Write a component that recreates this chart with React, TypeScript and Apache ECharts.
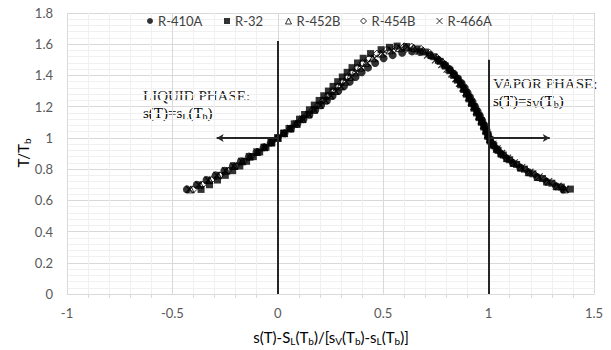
import React, { useEffect, useRef } from "react";
import * as echarts from "echarts";

type Pt = [number, number];

const seriesNames = ["R-410A", "R-32", "R-452B", "R-454B", "R-466A"];

const R410A: Pt[] = [
  [-0.431, 0.67], [-0.384, 0.7], [-0.338, 0.73], [-0.295, 0.76], [-0.253, 0.79], [-0.213, 0.82],
  [-0.175, 0.85], [-0.137, 0.88], [-0.101, 0.91], [-0.067, 0.94], [-0.033, 0.97], [0, 1],
  [0.032, 1.03], [0.063, 1.06], [0.093, 1.09], [0.122, 1.12], [0.15, 1.15], [0.178, 1.18],
  [0.206, 1.21], [0.233, 1.24], [0.26, 1.27], [0.287, 1.3], [0.314, 1.33], [0.341, 1.36],
  [0.369, 1.39], [0.398, 1.42], [0.428, 1.45], [0.462, 1.48], [0.502, 1.51], [0.545, 1.53],
  [0.59, 1.545], [0.637, 1.554],
  [0.675, 1.55], [0.72, 1.53], [0.76, 1.5], [0.79, 1.47], [0.815, 1.44], [0.836, 1.41],
  [0.855, 1.38], [0.872, 1.35], [0.887, 1.32], [0.9, 1.29], [0.912, 1.26], [0.924, 1.23],
  [0.936, 1.2], [0.948, 1.17], [0.959, 1.14], [0.97, 1.11], [0.98, 1.08], [0.99, 1.05],
  [0.998, 1.02], [1.006, 0.99], [1.02, 0.96], [1.037, 0.93], [1.058, 0.9], [1.085, 0.87],
  [1.115, 0.84], [1.15, 0.81], [1.19, 0.78], [1.23, 0.75], [1.275, 0.72], [1.32, 0.69],
  [1.355, 0.67],
];

const R32: Pt[] = [
  [-0.364, 0.67], [-0.324, 0.7], [-0.286, 0.73], [-0.249, 0.76], [-0.214, 0.79], [-0.18, 0.82],
  [-0.148, 0.85], [-0.116, 0.88], [-0.086, 0.91], [-0.056, 0.94], [-0.028, 0.97], [0, 1],
  [0.027, 1.03], [0.053, 1.06], [0.078, 1.09], [0.103, 1.12], [0.127, 1.15], [0.15, 1.18],
  [0.173, 1.21], [0.196, 1.24], [0.218, 1.27], [0.24, 1.3], [0.262, 1.33], [0.284, 1.36],
  [0.306, 1.39], [0.329, 1.42], [0.352, 1.45], [0.378, 1.48], [0.405, 1.51], [0.44, 1.54],
  [0.49, 1.565], [0.53, 1.58], [0.566, 1.588],
  [0.61, 1.585], [0.66, 1.57], [0.7, 1.55], [0.74, 1.52], [0.77, 1.49], [0.795, 1.46],
  [0.816, 1.43], [0.835, 1.4], [0.852, 1.37], [0.868, 1.34], [0.882, 1.31], [0.895, 1.28],
  [0.907, 1.25], [0.919, 1.22], [0.931, 1.19], [0.943, 1.16], [0.955, 1.13], [0.966, 1.1],
  [0.977, 1.07], [0.987, 1.04], [0.996, 1.01], [1.008, 0.98], [1.025, 0.95], [1.045, 0.92],
  [1.07, 0.89], [1.1, 0.86], [1.133, 0.83], [1.17, 0.8], [1.21, 0.77], [1.255, 0.74],
  [1.3, 0.71], [1.345, 0.685], [1.388, 0.672],
];

const R452B: Pt[] = [
  [-0.413, 0.67], [-0.368, 0.7], [-0.324, 0.73], [-0.283, 0.76], [-0.243, 0.79], [-0.205, 0.82],
  [-0.168, 0.85], [-0.132, 0.88], [-0.097, 0.91], [-0.064, 0.94], [-0.031, 0.97], [0, 1],
  [0.03, 1.03], [0.06, 1.06], [0.089, 1.09], [0.117, 1.12], [0.144, 1.15], [0.171, 1.18],
  [0.197, 1.21], [0.222, 1.24], [0.247, 1.27], [0.271, 1.3], [0.295, 1.33], [0.318, 1.36],
  [0.341, 1.39], [0.364, 1.42], [0.39, 1.45], [0.418, 1.48], [0.45, 1.51], [0.49, 1.54],
  [0.53, 1.56], [0.575, 1.575], [0.61, 1.582],
  [0.645, 1.578], [0.69, 1.56], [0.73, 1.53], [0.763, 1.5], [0.79, 1.47], [0.812, 1.44],
  [0.832, 1.41], [0.85, 1.38], [0.867, 1.35], [0.882, 1.32], [0.896, 1.29], [0.909, 1.26],
  [0.921, 1.23], [0.933, 1.2], [0.945, 1.17], [0.956, 1.14], [0.967, 1.11], [0.978, 1.08],
  [0.988, 1.05], [0.997, 1.02], [1.006, 0.99], [1.02, 0.96], [1.038, 0.93], [1.06, 0.9],
  [1.087, 0.87], [1.118, 0.84], [1.152, 0.81], [1.19, 0.78], [1.232, 0.75], [1.277, 0.72],
  [1.322, 0.69], [1.36, 0.67],
];

const R454B: Pt[] = [
  [-0.4, 0.67], [-0.357, 0.7], [-0.315, 0.73], [-0.274, 0.76], [-0.236, 0.79], [-0.198, 0.82],
  [-0.163, 0.85], [-0.128, 0.88], [-0.094, 0.91], [-0.062, 0.94], [-0.03, 0.97], [0, 1],
  [0.03, 1.03], [0.058, 1.06], [0.086, 1.09], [0.113, 1.12], [0.14, 1.15], [0.166, 1.18],
  [0.191, 1.21], [0.215, 1.24], [0.239, 1.27], [0.262, 1.3], [0.285, 1.33], [0.307, 1.36],
  [0.33, 1.39], [0.352, 1.42], [0.376, 1.45], [0.402, 1.48], [0.432, 1.51], [0.47, 1.54],
  [0.515, 1.565], [0.56, 1.58], [0.6, 1.587],
  [0.635, 1.585], [0.68, 1.57], [0.72, 1.545], [0.755, 1.515], [0.782, 1.485], [0.805, 1.455],
  [0.825, 1.425], [0.843, 1.395], [0.86, 1.365], [0.875, 1.335], [0.889, 1.305], [0.902, 1.275],
  [0.914, 1.245], [0.926, 1.215], [0.938, 1.185], [0.95, 1.155], [0.961, 1.125], [0.972, 1.095],
  [0.982, 1.065], [0.992, 1.035], [0.999, 1.005], [1.01, 0.975], [1.028, 0.945], [1.05, 0.915],
  [1.075, 0.885], [1.105, 0.855], [1.14, 0.825], [1.178, 0.795], [1.22, 0.765], [1.265, 0.735],
  [1.31, 0.705], [1.35, 0.68],
];

const R466A: Pt[] = [
  [-0.42, 0.67], [-0.375, 0.7], [-0.331, 0.73], [-0.289, 0.76], [-0.248, 0.79], [-0.209, 0.82],
  [-0.171, 0.85], [-0.135, 0.88], [-0.099, 0.91], [-0.065, 0.94], [-0.032, 0.97], [0, 1],
  [0.031, 1.03], [0.061, 1.06], [0.091, 1.09], [0.119, 1.12], [0.147, 1.15], [0.174, 1.18],
  [0.201, 1.21], [0.226, 1.24], [0.252, 1.27], [0.276, 1.3], [0.3, 1.33], [0.324, 1.36],
  [0.347, 1.39], [0.371, 1.42], [0.397, 1.45], [0.425, 1.48], [0.458, 1.51], [0.498, 1.54],
  [0.54, 1.56], [0.585, 1.572],
  [0.625, 1.57], [0.67, 1.555], [0.71, 1.53], [0.748, 1.5], [0.778, 1.47], [0.803, 1.44],
  [0.825, 1.41], [0.844, 1.38], [0.862, 1.35], [0.878, 1.32], [0.892, 1.29], [0.905, 1.26],
  [0.918, 1.23], [0.93, 1.2], [0.942, 1.17], [0.954, 1.14], [0.965, 1.11], [0.976, 1.08],
  [0.987, 1.05], [0.996, 1.02], [1.006, 0.99], [1.021, 0.96], [1.04, 0.93], [1.062, 0.9],
  [1.09, 0.87], [1.122, 0.84], [1.157, 0.81], [1.196, 0.78], [1.24, 0.75], [1.285, 0.72],
  [1.33, 0.69], [1.365, 0.67],
];

// reference lines (data coordinates)
const phaseLines: [Pt, Pt][] = [
  [[0, 0], [0, 1.62]],
  [[1, 0], [1, 1.5]],
];
const arrowLines: [Pt, Pt][] = [
  [[0, 1], [-0.29, 1]],
  [[1, 1], [1.29, 1]],
];

const FONT = "Lato, 'Open Sans', sans-serif";
const SERIF = "'Liberation Serif', 'DejaVu Serif', serif";
const LABEL = "#595959";

export default function App() {
  const ref = useRef<HTMLDivElement>(null);
  useEffect(() => {
    if (!ref.current) return;
    const chart = echarts.init(ref.current, undefined, { renderer: "svg" });
    const serif = { fontFamily: SERIF, fontSize: 15, color: "#262626", lineHeight: 18 };
    const sub = { fontFamily: SERIF, fontSize: 10, color: "#262626", lineHeight: 10, verticalAlign: "bottom" };
    const hollow = { color: "#ffffff", borderColor: "#000", borderWidth: 1 };
    const markerStyles: any[] = [
      { symbol: "circle", symbolSize: 8, itemStyle: { color: "#000" } },
      { symbol: "rect", symbolSize: 7, itemStyle: { color: "#000" } },
      { symbol: "triangle", symbolSize: 7, itemStyle: { color: "rgba(255,255,255,0)", borderColor: "#000", borderWidth: 1 } },
      { symbol: "diamond", symbolSize: 7, itemStyle: { color: "rgba(255,255,255,0)", borderColor: "#000", borderWidth: 1 } },
      { symbol: "path://M0,0L10,10M10,0L0,10", symbolSize: 7, itemStyle: { color: "rgba(255,255,255,0)", borderColor: "#000", borderWidth: 1.2 } },
    ];
    const legendIcons: any[] = [
      { icon: "circle", itemStyle: { color: "#000", borderWidth: 0 } },
      { icon: "rect", itemStyle: { color: "#000", borderWidth: 0 } },
      { icon: "triangle", itemStyle: hollow },
      { icon: "diamond", itemStyle: hollow },
      { icon: "path://M0,0L10,10M10,0L0,10", itemStyle: hollow },
    ];
    const legendLefts = [147, 224, 285, 360, 436];
    const datas = [R410A, R32, R452B, R454B, R466A];
    const scatter = seriesNames.map((name, i) => ({
      name,
      type: "scatter",
      data: datas[i],
      ...markerStyles[i],
      z: 3,
    }));
    const legends = seriesNames.map((name, i) => ({
      data: [{ name, ...legendIcons[i] }],
      left: legendLefts[i],
      top: 13,
      itemWidth: 6,
      itemHeight: 6,
      itemGap: 4,
      padding: 0,
      textStyle: { fontFamily: FONT, fontSize: 13, color: "#404040", lineHeight: 16 },
    }));
    chart.setOption({
      animation: false,
      grid: { left: 67, right: 17, top: 13, bottom: 56 },
      legend: legends,
      xAxis: {
        type: "value",
        min: -1,
        max: 1.5,
        interval: 0.5,
        axisLine: { show: true, onZero: false, lineStyle: { color: "#d9d9d9" } },
        axisTick: { show: false },
        minorTick: { show: true, splitNumber: 5, length: 4, lineStyle: { color: "#d9d9d9" } },
        splitLine: { show: true, lineStyle: { color: "#d9d9d9" } },
        minorSplitLine: { show: true, lineStyle: { color: "#f0f0f0" } },
        axisLabel: { fontFamily: FONT, fontSize: 13, color: LABEL, margin: 12 },
      },
      yAxis: {
        type: "value",
        min: 0,
        max: 1.8,
        interval: 0.2,
        axisLine: { show: false },
        axisTick: { show: false },
        splitLine: { show: true, lineStyle: { color: "#d9d9d9" } },
        minorTick: { show: false, splitNumber: 5 },
        minorSplitLine: { show: true, lineStyle: { color: "#f0f0f0" } },
        axisLabel: { fontFamily: FONT, fontSize: 13, color: LABEL, margin: 14 },
      },
      series: [
        ...scatter,
        {
          type: "line",
          data: [],
          silent: true,
          markLine: {
            silent: true,
            symbol: ["none", "none"],
            label: { show: false },
            lineStyle: { color: "#262626", width: 2, type: "solid" },
            data: phaseLines.map(([a, b]) => [{ coord: a }, { coord: b }]),
          },
        },
        {
          type: "line",
          data: [],
          silent: true,
          markLine: {
            silent: true,
            symbol: ["none", "arrow"],
            symbolSize: [6, 7],
            label: { show: false },
            lineStyle: { color: "#262626", width: 2, type: "solid" },
            data: arrowLines.map(([a, b]) => [{ coord: a }, { coord: b }]),
          },
        },
      ],
      graphic: [
        {
          type: "text",
          left: 143,
          top: 88,
          style: { text: "LIQUID PHASE:", font: `15px ${SERIF}`, fill: "#262626" },
        },
        {
          type: "text",
          left: 143,
          top: 105,
          style: {
            text: "{a|s(T)=s}{s|L}{a|(T}{s|b}{a|)}",
            rich: { a: serif, s: sub },
          },
        },
        {
          type: "text",
          left: 493,
          top: 76,
          style: { text: "VAPOR PHASE:", font: `15px ${SERIF}`, fill: "#262626" },
        },
        {
          type: "text",
          left: 493,
          top: 93,
          style: {
            text: "{a|s(T)=s}{s|V}{a|(T}{s|b}{a|)}",
            rich: { a: serif, s: sub },
          },
        },
        {
          type: "text",
          x: 23,
          y: 153,
          rotation: Math.PI / 2,
          style: {
            text: "{a|T/T}{s|b}",
            align: "center",
            verticalAlign: "middle",
            rich: {
              a: { fontFamily: FONT, fontSize: 15, color: LABEL, lineHeight: 18 },
              s: { fontFamily: FONT, fontSize: 10, color: LABEL, lineHeight: 10, verticalAlign: "bottom" },
            },
          },
        },
        {
          type: "text",
          x: 331,
          y: 337,
          style: {
            text: "{a|s(T)-S}{s|L}{a|(T}{s|b}{a|)/[s}{s|V}{a|(T}{s|b}{a|)-s}{s|L}{a|(T}{s|b}{a|)]}",
            align: "center",
            verticalAlign: "middle",
            rich: {
              a: { fontFamily: FONT, fontSize: 15, color: LABEL, lineHeight: 18 },
              s: { fontFamily: FONT, fontSize: 10, color: LABEL, lineHeight: 10, verticalAlign: "bottom" },
            },
          },
        },
      ],
    });
    return () => chart.dispose();
  }, []);
  return (
    <div
      ref={ref}
      style={{ position: "absolute", left: 0, top: 0, width: 611, height: 350, background: "#fff" }}
    />
  );
}
